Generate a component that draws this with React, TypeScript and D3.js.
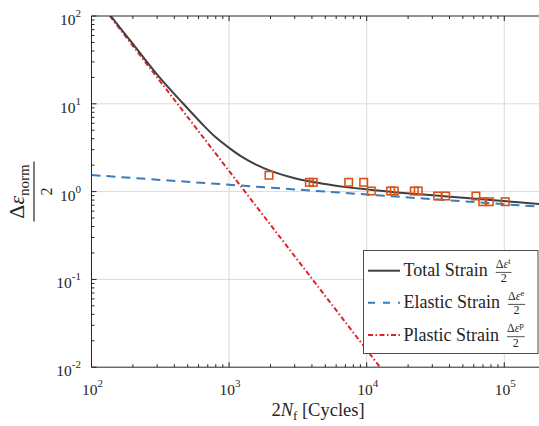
import { useRef, useEffect } from "react";
import * as d3 from "d3";

// measured specimens (2N_f, normalized strain amplitude)
const specimenCycles = [1950, 3830, 4090, 7400, 9510, 10800, 14930, 15870, 22180, 23710, 32800, 37500, 62200, 69700, 77800, 101600];
const specimenStrain = [1.535, 1.276, 1.276, 1.276, 1.276, 1.016, 1.016, 1.016, 1.016, 1.016, 0.891, 0.891, 0.891, 0.767, 0.767, 0.767];

// fitted curves
const totalCycles = [138, 200, 300, 465, 650, 800, 1000, 1250, 1600, 2000, 3000, 5000, 7568, 10000, 17450, 40330, 93100, 200000];
const totalStrain = [100, 48, 21.5, 10, 5.7, 4.15, 3.15, 2.47, 2.0, 1.72, 1.42, 1.22, 1.11, 1.06, 0.972, 0.875, 0.787, 0.711];
const elasticCycles = [100, 200000];
const elasticStrain = [1.545, 0.665];
const plasticCycles = [136, 12500];
const plasticStrain = [100, 0.01];

const xTickExps = [2, 3, 4, 5];
const yTickExps = [-2, -1, 0, 1, 2];

const legendLabels = ["Total Strain", "Elastic Strain", "Plastic Strain"];
const legendSups = ["t", "e", "p"];

const App = () => {
  const svgRef = useRef<SVGSVGElement>(null);

  useEffect(() => {
    const svg = d3.select(svgRef.current);
    svg.selectAll("*").remove();

    const font = "Liberation Serif, Times New Roman, DejaVu Serif, serif";
    const ink = "#262626";
    const colors = { total: "#404040", elastic: "#3a7cbb", plastic: "#e2222a", marker: "#d95319" };

    const x = d3.scaleLog().domain([1e2, 2e5]).range([91.5, 545.7]);
    const y = d3.scaleLog().domain([1e-2, 1e2]).range([367.2, 16]);
    const [xl, xr] = x.range();
    const [yb, yt] = y.range();

    svg
      .append("defs")
      .append("clipPath")
      .attr("id", "plot-clip")
      .append("rect")
      .attr("x", xl)
      .attr("y", yt)
      .attr("width", xr - xl)
      .attr("height", yb - yt);

    // Grid
    const grid = svg.append("g").attr("stroke", "#dadada").attr("stroke-width", 1);
    xTickExps.slice(1).forEach((e) => {
      grid.append("line").attr("x1", x(10 ** e)).attr("x2", x(10 ** e)).attr("y1", yt).attr("y2", yb);
    });
    yTickExps.slice(1, -1).forEach((e) => {
      grid.append("line").attr("x1", xl).attr("x2", xr).attr("y1", y(10 ** e)).attr("y2", y(10 ** e));
    });

    // Curves
    const plot = svg.append("g").attr("clip-path", "url(#plot-clip)");
    const line = d3
      .line<[number, number]>()
      .x((d) => x(d[0]))
      .y((d) => y(d[1]))
      .curve(d3.curveCatmullRom.alpha(0.5));

    plot
      .append("path")
      .attr("d", line(elasticCycles.map((c, i) => [c, elasticStrain[i]])))
      .attr("fill", "none")
      .attr("stroke", colors.elastic)
      .attr("stroke-width", 2)
      .attr("stroke-dasharray", "9,6");

    plot
      .append("path")
      .attr("d", line(plasticCycles.map((c, i) => [c, plasticStrain[i]])))
      .attr("fill", "none")
      .attr("stroke", colors.plastic)
      .attr("stroke-width", 2)
      .attr("stroke-dasharray", "5,2.5,1.5,2.5");

    plot
      .append("path")
      .attr("d", line(totalCycles.map((c, i) => [c, totalStrain[i]])))
      .attr("fill", "none")
      .attr("stroke", colors.total)
      .attr("stroke-width", 2);

    // Specimens
    const sq = 7.5;
    plot
      .selectAll(".pt")
      .data(specimenCycles.map((c, i) => [c, specimenStrain[i]]))
      .enter()
      .append("rect")
      .attr("x", (d) => x(d[0]) - sq / 2)
      .attr("y", (d) => y(d[1]) - sq / 2)
      .attr("width", sq)
      .attr("height", sq)
      .attr("fill", "none")
      .attr("stroke", colors.marker)
      .attr("stroke-width", 1.6);

    // Axes frame + ticks
    const axes = svg.append("g").attr("stroke", ink).attr("stroke-width", 1);
    axes.append("line").attr("x1", xl).attr("x2", xr).attr("y1", yb).attr("y2", yb);
    axes.append("line").attr("x1", xl).attr("x2", xr).attr("y1", yt).attr("y2", yt);
    axes.append("line").attr("x1", xl).attr("x2", xl).attr("y1", yt).attr("y2", yb);

    const xDom = x.domain();
    for (let e = 2; e <= 5; e++) {
      for (let k = 1; k <= 9; k++) {
        const v = k * 10 ** e;
        if (v > xDom[1]) continue;
        const len = k === 1 ? 5 : 3;
        axes.append("line").attr("x1", x(v)).attr("x2", x(v)).attr("y1", yb).attr("y2", yb - len);
        axes.append("line").attr("x1", x(v)).attr("x2", x(v)).attr("y1", yt).attr("y2", yt + len);
      }
    }
    for (let e = -2; e <= 2; e++) {
      for (let k = 1; k <= 9; k++) {
        const v = k * 10 ** e;
        if (v > 100) continue;
        const len = k === 1 ? 5 : 3;
        axes.append("line").attr("x1", xl).attr("x2", xl + len).attr("y1", y(v)).attr("y2", y(v));
      }
    }

    // Tick labels
    const addPow = (tx: number, ty: number, e: number, anchor: string) => {
      const t = svg
        .append("text")
        .attr("x", tx)
        .attr("y", ty)
        .attr("text-anchor", anchor)
        .attr("font-family", font)
        .attr("font-size", 15.5)
        .attr("fill", ink);
      t.append("tspan").text("10");
      t.append("tspan").attr("dy", -8).attr("font-size", 11).text(String(e));
    };
    xTickExps.forEach((e) => addPow(x(10 ** e) + 1, 395, e, "middle"));
    yTickExps.forEach((e) => addPow(81, y(10 ** e) + 9, e, "end"));

    // X label
    const xlab = svg
      .append("text")
      .attr("x", 318)
      .attr("y", 416)
      .attr("text-anchor", "middle")
      .attr("font-family", font)
      .attr("font-size", 18.5)
      .attr("fill", ink);
    xlab.append("tspan").text("2");
    xlab.append("tspan").attr("font-style", "italic").text("N");
    xlab.append("tspan").attr("font-size", 13).attr("dy", 4).text("f");
    xlab.append("tspan").attr("dy", -4).text(" [Cycles]");

    // Y label (fraction)
    const ylab = svg.append("g").attr("transform", "translate(24,191.5) rotate(-90)").attr("fill", ink);
    const num = ylab
      .append("text")
      .attr("x", 0)
      .attr("y", 0)
      .attr("text-anchor", "middle")
      .attr("font-family", font)
      .attr("font-size", 22);
    num.append("tspan").text("Δ");
    num.append("tspan").attr("font-style", "italic").text("ε");
    num.append("tspan").attr("font-size", 15).attr("dy", 5).text("norm");
    ylab.append("line").attr("x1", -30).attr("x2", 30).attr("y1", 10).attr("y2", 10).attr("stroke", ink).attr("stroke-width", 1.2);
    ylab
      .append("text")
      .attr("x", 0)
      .attr("y", 27.5)
      .attr("text-anchor", "middle")
      .attr("font-family", font)
      .attr("font-size", 16)
      .text("2");

    // Legend
    const lg = svg.append("g");
    lg.append("rect")
      .attr("x", 363.5)
      .attr("y", 250.5)
      .attr("width", 174.5)
      .attr("height", 103)
      .attr("fill", "white")
      .attr("stroke", "#4d4d4d")
      .attr("stroke-width", 1);

    const rowY = [270.7, 302.7, 335];
    const rowStyles = [
      { color: colors.total, dash: null },
      { color: colors.elastic, dash: "7,8" },
      { color: colors.plastic, dash: "5,2.5,1.5,2.5" },
    ];
    legendLabels.forEach((label, i) => {
      const ry = rowY[i];
      lg.append("line")
        .attr("x1", 368)
        .attr("x2", 400)
        .attr("y1", ry)
        .attr("y2", ry)
        .attr("stroke", rowStyles[i].color)
        .attr("stroke-width", 2)
        .attr("stroke-dasharray", rowStyles[i].dash);
      const txt = lg
        .append("text")
        .attr("x", 403.5)
        .attr("y", ry + 5.5)
        .attr("font-family", font)
        .attr("font-size", 18)
        .attr("fill", ink)
        .text(label);
      const w = (txt.node() as SVGTextElement).getComputedTextLength();
      const fx = 403.5 + w + 8;
      const n = lg
        .append("text")
        .attr("x", fx)
        .attr("y", ry - 3)
        .attr("font-family", font)
        .attr("font-size", 12)
        .attr("fill", ink);
      n.append("tspan").text("Δ");
      n.append("tspan").attr("font-style", "italic").text("ε");
      n.append("tspan").attr("font-size", 8.5).attr("dy", -4).text(legendSups[i]);
      const nw = (n.node() as SVGTextElement).getComputedTextLength();
      lg.append("line")
        .attr("x1", fx)
        .attr("x2", fx + nw + 1)
        .attr("y1", ry + 1.7)
        .attr("y2", ry + 1.7)
        .attr("stroke", ink)
        .attr("stroke-width", 0.8);
      lg.append("text")
        .attr("x", fx + (nw + 1) / 2)
        .attr("y", ry + 11.5)
        .attr("text-anchor", "middle")
        .attr("font-family", font)
        .attr("font-size", 12)
        .attr("fill", ink)
        .text("2");
    });
  }, []);

  return (
    <svg
      ref={svgRef}
      width="539"
      height="426"
      style={{ position: "absolute", left: 0, top: 0, background: "white" }}
    ></svg>
  );
};

export default App;
